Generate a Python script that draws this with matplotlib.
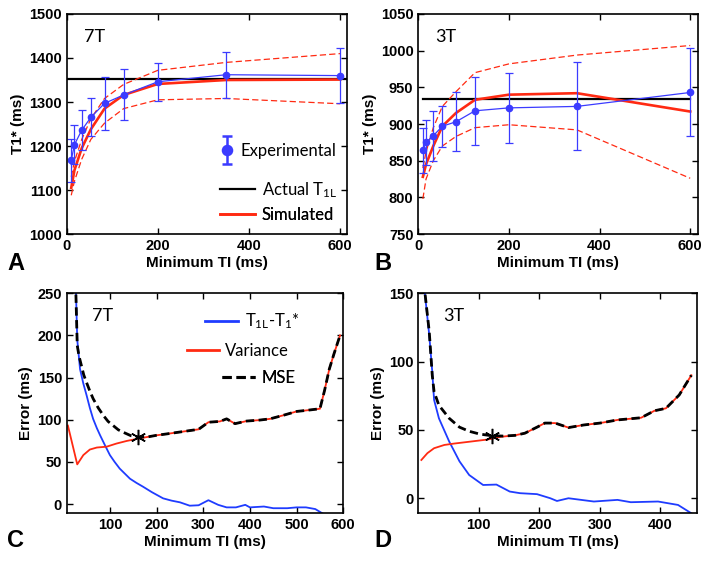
import numpy as np
import matplotlib.pyplot as plt
from matplotlib.lines import Line2D
from matplotlib.legend_handler import HandlerErrorbar

plt.rcParams['font.family'] = ['Liberation Sans', 'DejaVu Sans']
plt.rcParams['mathtext.default'] = 'regular'

# ---- Panels A/B : T1* versus minimum TI ----
ti_exp = [10, 17, 33, 53, 83, 125, 200, 350, 600]

t1_7t = [1168, 1203, 1236, 1265, 1297, 1316, 1346, 1362, 1360]
t1_7t_err = [49, 45, 45, 43, 60, 58, 43, 52, 62]
sim_7t = [1105, 1145, 1195, 1238, 1285, 1316, 1341, 1350, 1351]
sim_7t_hi = [1130, 1165, 1215, 1262, 1308, 1340, 1372, 1390, 1410]
sim_7t_lo = [1088, 1120, 1170, 1215, 1252, 1285, 1305, 1308, 1296]
t1l_7t = 1352
t1l_span_7t = [0, 615]

t1_3t = [864, 875, 884, 897, 903, 918, 922, 924, 943]
t1_3t_err = [31, 31, 34, 28, 40, 46, 48, 60, 60]
sim_3t = [828, 845, 870, 897, 915, 933, 940, 942, 917]
sim_3t_hi = [840, 862, 895, 924, 944, 970, 982, 994, 1007]
sim_3t_lo = [798, 825, 850, 870, 883, 895, 899, 892, 826]
t1l_3t = 934
t1l_span_3t = [10, 600]

# ---- Panel C : error at 7T ----
c_var_x = [10, 30, 43, 57, 72, 93, 114, 136, 161, 180, 200, 220, 250, 270, 290,
           311, 336, 350, 368, 393, 420, 443, 470, 500, 520, 550, 560, 570, 580, 593]
c_var_y = [93, 47, 58, 64.6, 67, 68, 71.7, 74.8, 77.6, 79.5, 81.5, 83, 85.4, 87, 88.6,
           97, 98, 101, 95.3, 98.4, 99.5, 101, 105, 109.8, 111, 113, 135, 160, 178, 200]
c_mse_x = [20, 30, 34, 39, 44, 50, 57, 64, 75, 86, 96, 107, 118, 129, 145, 161, 180, 200,
           220, 250, 270, 290, 311, 336, 350, 368, 393, 420, 443, 470, 500, 520, 550,
           560, 570, 580, 593]
c_mse_y = [400, 188, 175, 164, 153, 144, 134, 125, 114, 105, 98, 93, 88, 85, 81, 79.5, 79.5,
           81.5, 83, 85.4, 87, 88.6, 97, 98, 101, 95.3, 98.4, 99.5, 101, 105, 109.8, 111,
           113, 135, 160, 178, 200]
c_bias_x = [20, 30, 36, 43, 50, 57, 64, 72, 79, 90, 100, 110, 121, 132, 143, 157, 171, 190,
            214, 232, 250, 271, 290, 311, 332, 350, 370, 390, 400, 430, 450, 480, 500, 520,
            540, 555]
c_bias_y = [400, 195, 160, 143, 129, 114, 101, 90, 81.5, 69, 58, 50, 42, 36, 30, 25, 20.5,
            14, 6.7, 4, 2, -2, -1.5, 4.5, -1, -4, -4, -1, -4, -3, -5, -5, -4, -4, -6, -11]
c_opt = [161, 79]

# ---- Panel D : error at 3T ----
d_var_x = [5, 15, 26, 43, 59, 87, 115, 137, 159, 176, 196, 209, 226, 248, 273, 300, 329,
           368, 390, 409, 431, 451]
d_var_y = [28, 33, 36.6, 39, 40, 41.5, 43, 45, 46, 47.6, 52, 55, 55, 51.7, 53.6, 55, 57.3,
           58.9, 64, 65.8, 75.6, 90]
d_mse_x = [5, 11, 18, 23, 26, 34, 51, 68, 84, 101, 120, 140, 160, 176, 196, 209, 226, 248,
           273, 300, 329, 368, 390, 409, 431, 451]
d_mse_y = [205, 150, 122, 90, 78, 68, 58.5, 52, 49, 47, 45.8, 45.5, 46, 47.6, 52, 55, 55,
           51.7, 53.6, 55, 57.3, 58.9, 64, 65.8, 75.6, 90]
d_bias_x = [5, 11, 18, 23, 26, 34, 51, 68, 84, 107, 129, 151, 168, 196, 218, 229, 248, 290,
            329, 351, 396, 429, 451]
d_bias_y = [200, 149, 119.5, 92.6, 72, 58.5, 41.5, 27, 17, 9.7, 10, 4.9, 3.7, 3, 0, -2, 0,
            -2.4, -1.2, -2.9, -2.4, -4.9, -11]
d_opt = [122, 45.8]

BLUE_PT = '#3b3bff'
BLUE = '#1f3cff'
RED = '#ff2a12'
LEG_FONT = {'family': ['Lato', 'DejaVu Sans'], 'size': 12}


def style(ax):
    ax.tick_params(direction='in', top=True, right=True, length=4, width=1,
                   labelsize=10.5)
    for lab in ax.get_xticklabels() + ax.get_yticklabels():
        lab.set_fontweight('bold')
    for s in ax.spines.values():
        s.set_linewidth(1.2)


def entry(ax, handle, label, x, y, hl, hmap=None):
    leg = ax.legend([handle], [label], loc='center left', bbox_to_anchor=(x, y),
                    frameon=False, handlelength=hl, handletextpad=0.4, borderpad=0,
                    borderaxespad=0, prop=LEG_FONT, handler_map=hmap)
    ax.add_artist(leg)


def bold_key(legend_artist, orig):
    # legend key of the errorbar is drawn heavier than the plotted bars
    legend_artist.update_from(orig)
    legend_artist.set_linewidth(1.8)
    if isinstance(legend_artist, Line2D):
        legend_artist.set_markersize(6.5)
        legend_artist.set_markeredgewidth(1.8)


fig = plt.figure(figsize=(7.14, 5.62), dpi=100)
axA = fig.add_axes([0.0934, 0.5836, 0.3926, 0.3915])
axB = fig.add_axes([0.5859, 0.5836, 0.3922, 0.3915])
axC = fig.add_axes([0.0938, 0.0867, 0.3870, 0.3915])
axD = fig.add_axes([0.5859, 0.0867, 0.3900, 0.3915])


def t1_panel(ax, t1, err, sim, hi, lo, t1l, span, ylim, yticks, tag):
    ax.plot(span, [t1l, t1l], color='black', lw=1.6)
    ax.plot(ti_exp, hi, color=RED, lw=0.9, dashes=(5, 2.5))
    ax.plot(ti_exp, lo, color=RED, lw=0.9, dashes=(5, 2.5))
    ax.plot(ti_exp, sim, color=RED, lw=1.9)
    ax.plot(ti_exp, t1, color=BLUE_PT, lw=0.9)
    eb = ax.errorbar(ti_exp, t1, yerr=err, fmt='o', color=BLUE_PT, ms=4.5,
                     elinewidth=0.9, capsize=3, capthick=0.9)
    ax.set_xlim(0, 615)
    ax.set_ylim(*ylim)
    ax.set_xticks([0, 200, 400, 600])
    ax.set_yticks(yticks)
    ax.set_xlabel('Minimum TI (ms)', fontsize=11, fontweight='bold', labelpad=2)
    ax.set_ylabel('T1* (ms)', fontsize=11, fontweight='bold', labelpad=3)
    ax.text(0.06, 0.895, tag, transform=ax.transAxes, ha='left', va='center',
            fontsize=13, family=['Lato', 'DejaVu Sans'])
    style(ax)
    return eb


ebA = t1_panel(axA, t1_7t, t1_7t_err, sim_7t, sim_7t_hi, sim_7t_lo, t1l_7t,
               t1l_span_7t, (1000, 1500), np.arange(1000, 1501, 100), '7T')
t1_panel(axB, t1_3t, t1_3t_err, sim_3t, sim_3t_hi, sim_3t_lo, t1l_3t,
         t1l_span_3t, (750, 1050), np.arange(750, 1051, 50), '3T')
axB.set_xlim(0, 618)

entry(axA, ebA, 'Experimental', 0.547, 0.379, 0.8,
      {type(ebA): HandlerErrorbar(yerr_size=0.85, update_func=bold_key)})
entry(axA, Line2D([], [], color='black', lw=1.6), 'Actual T$_{1L}$', 0.547, 0.20, 2.1)
entry(axA, Line2D([], [], color=RED, lw=1.9), 'Simulated', 0.547, 0.086, 2.1)


def err_panel(ax, vx, vy, mx, my, bx, by, opt, xlim, ylim, xticks, yticks, tag):
    ax.plot(bx, by, color=BLUE, lw=1.3)
    ax.plot(vx, vy, color=RED, lw=1.3)
    ax.plot(mx, my, color='black', lw=2.0, dashes=(3, 1.6))
    ax.plot(opt[0], opt[1], marker=(6, 2, 0), color='black', ms=11, mew=1.1)
    ax.set_xlim(*xlim)
    ax.set_ylim(*ylim)
    ax.set_xticks(xticks)
    ax.set_yticks(yticks)
    ax.set_xlabel('Minimum TI (ms)', fontsize=11, fontweight='bold', labelpad=2)
    ax.set_ylabel('Error (ms)', fontsize=11, fontweight='bold', labelpad=3)
    ax.text(0.09, 0.895, tag, transform=ax.transAxes, ha='left', va='center',
            fontsize=13, family=['Lato', 'DejaVu Sans'])
    style(ax)


err_panel(axC, c_var_x, c_var_y, c_mse_x, c_mse_y, c_bias_x, c_bias_y, c_opt,
          (8, 600), (-11, 250), np.arange(100, 601, 100), np.arange(0, 251, 50), '7T')
err_panel(axD, d_var_x, d_var_y, d_mse_x, d_mse_y, d_bias_x, d_bias_y, d_opt,
          (0, 460), (-11, 150), np.arange(100, 401, 100), np.arange(0, 151, 50), '3T')

entry(axC, Line2D([], [], color=BLUE, lw=2), 'T$_{1L}$-T$_1$*', 0.4995, 0.871, 2.0)
entry(axC, Line2D([], [], color=RED, lw=2), 'Variance', 0.434, 0.738, 1.9)
entry(axC, Line2D([], [], color='black', lw=2.2, dashes=(3, 1.6)), 'MSE', 0.561, 0.616, 2.0)

for lab, x, y in [('A', 0.0098, 0.5196), ('B', 0.525, 0.5196),
                  ('C', 0.0098, 0.0267), ('D', 0.525, 0.0267)]:
    fig.text(x, y, lab, fontsize=17, fontweight='bold', ha='left', va='baseline')

fig.savefig('out.png', dpi=100)
